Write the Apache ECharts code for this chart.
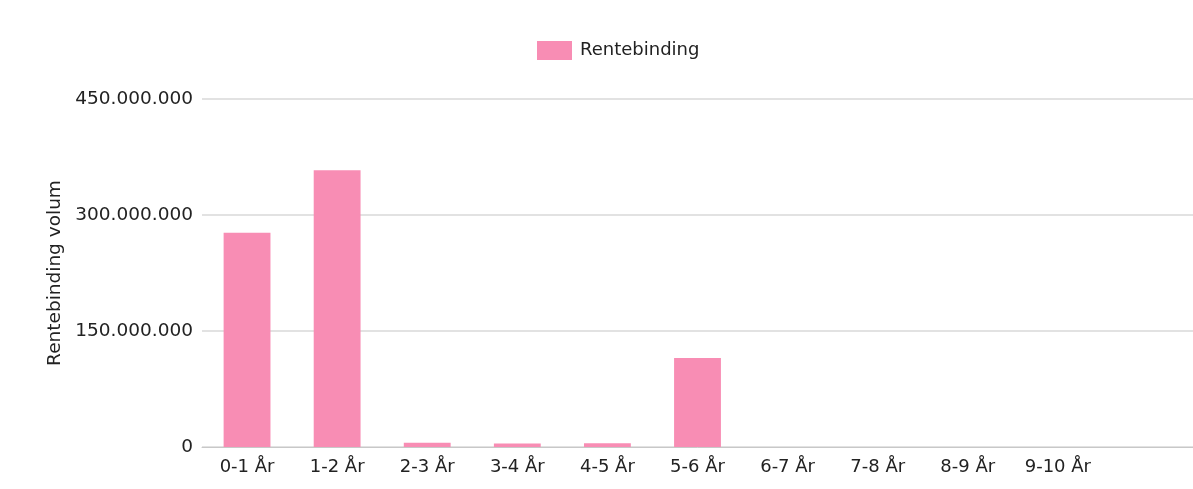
<!DOCTYPE html>
<html>
<head>
<meta charset="utf-8">
<script src="https://cdn.jsdelivr.net/npm/echarts@6/dist/echarts.min.js"></script>
<style>
  html, body { margin: 0; padding: 0; background: #fff; }
  #chart { width: 1193px; height: 489px; }
</style>
</head>
<body>
<div id="chart"></div>
<script>
// Interest-rate fixing volume per maturity bucket
const categories = ['0-1 År', '1-2 År', '2-3 År', '3-4 År', '4-5 År', '5-6 År', '6-7 År', '7-8 År', '8-9 År', '9-10 År'];
const volumes = [277000000, 358000000, 5500000, 4500000, 5000000, 115000000, 0, 0, 0, 0];
const seriesName = 'Rentebinding';
const axisName = 'Rentebinding volum';
const yMax = 450000000;
const yStep = 150000000;

const FONT = 'DejaVu Sans';

function dotThousands(v) {
  return String(v).replace(/\B(?=(\d{3})+(?!\d))/g, '.');
}

const chart = echarts.init(document.getElementById('chart'), null, { renderer: 'canvas' });
chart.setOption({
  animation: false,
  backgroundColor: '#ffffff',
  textStyle: { fontFamily: FONT },
  legend: {
    left: 532,
    top: 36,
    itemWidth: 35,
    itemHeight: 19,
    icon: 'rect',
    itemStyle: { borderWidth: 0 },
    textStyle: { fontFamily: FONT, fontSize: 18, color: '#222', padding: [0, 0, 0, 3] },
    data: [seriesName]
  },
  grid: { left: 202, right: -10, top: 99, bottom: 42, containLabel: false },
  xAxis: {
    type: 'category',
    data: categories.concat(['']),
    axisLine: { show: true, lineStyle: { color: '#c8c8c8', width: 1 } },
    axisTick: { show: false },
    axisLabel: { fontFamily: FONT, fontSize: 18, color: '#222', margin: 11, interval: 0 }
  },
  yAxis: {
    type: 'value',
    min: 0,
    max: yMax,
    interval: yStep,
    name: axisName,
    nameLocation: 'middle',
    nameGap: 136,
    nameTextStyle: { fontFamily: FONT, fontSize: 18.5, color: '#222' },
    axisLine: { show: false },
    axisTick: { show: false },
    axisLabel: { fontFamily: FONT, fontSize: 18.5, color: '#222', margin: 9, formatter: dotThousands },
    splitLine: { lineStyle: { color: '#d8d8d8', width: 1.5 } }
  },
  series: [{
    name: seriesName,
    type: 'bar',
    data: volumes,
    barWidth: '52%',
    itemStyle: { color: '#f88db4', borderWidth: 0 }
  }]
});
</script>
</body>
</html>
